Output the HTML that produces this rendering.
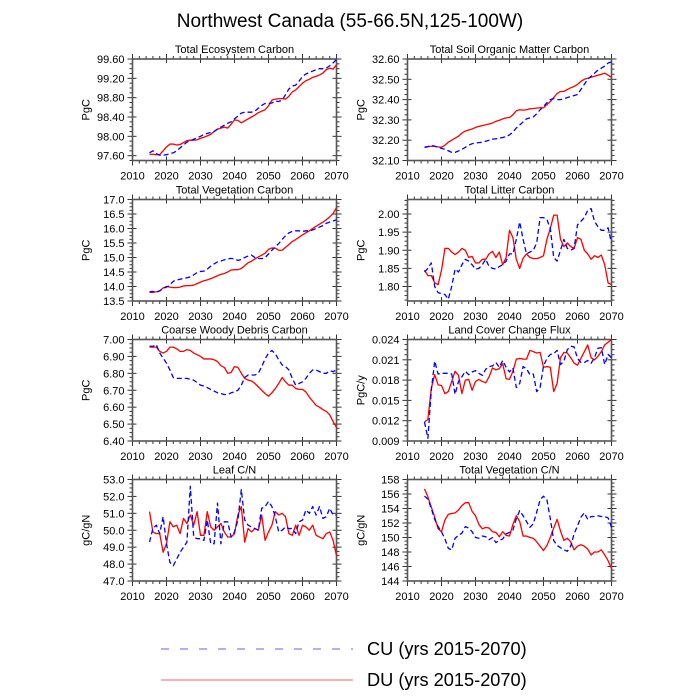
<!DOCTYPE html>
<html><head><meta charset="utf-8">
<style>
html,body{margin:0;padding:0;background:#fff;}
svg{display:block;font-family:"Liberation Sans",Arial,sans-serif;}
</style></head>
<body>
<svg id="chart" width="700" height="700" viewBox="0 0 700 700" xmlns="http://www.w3.org/2000/svg">
<rect width="700" height="700" fill="#fff"/>
<text x="350" y="27" font-size="19" text-anchor="middle" fill="#000">Northwest Canada (55-66.5N,125-100W)</text>
<g id="panels"></g>
<g>
<line x1="161" y1="649" x2="353" y2="649" stroke="#6060ff" stroke-width="1" stroke-dasharray="8,11"/>
<text x="367" y="655" font-size="18.2" fill="#000">CU (yrs 2015-2070)</text>
<line x1="161" y1="680" x2="353" y2="680" stroke="#ff6060" stroke-width="1"/>
<text x="367" y="686" font-size="18.2" fill="#000">DU (yrs 2015-2070)</text>
</g>
</svg>
<script>
const startYear = 2015;
const xTicks = [2010, 2020, 2030, 2040, 2050, 2060, 2070];
const panelTitles = ["Total Ecosystem Carbon","Total Soil Organic Matter Carbon","Total Vegetation Carbon","Total Litter Carbon","Coarse Woody Debris Carbon","Land Cover Change Flux","Leaf C/N","Total Vegetation C/N"];
const yUnits = ["PgC","PgC","PgC","PgC","PgC","PgC/y","gC/gN","gC/gN"];
const yMin = [97.5, 32.1, 13.5, 1.76, 6.4, 0.009, 47, 144];
const yMax = [99.6, 32.6, 17.0, 2.04, 7.0, 0.024, 53, 158];
const yTickStart = [97.6, 32.1, 13.5, 1.8, 6.4, 0.009, 47, 144];
const yTickStep = [0.4, 0.1, 0.5, 0.05, 0.1, 0.003, 1, 2];
const yDecimals = [2, 2, 1, 2, 2, 3, 1, 0];

const ecoDU = [97.63,97.63,97.62,97.62,97.7,97.78,97.84,97.84,97.82,97.83,97.87,97.91,97.92,97.92,97.93,97.96,97.98,98.01,98.04,98.1,98.15,98.17,98.19,98.17,98.25,98.34,98.33,98.28,98.32,98.36,98.4,98.44,98.49,98.52,98.55,98.63,98.75,98.77,98.78,98.78,98.77,98.83,98.92,98.96,99.03,99.1,99.15,99.18,99.22,99.24,99.27,99.31,99.38,99.41,99.39,99.48];
const ecoCU = [97.66,97.7,97.64,97.61,97.61,97.62,97.64,97.66,97.7,97.76,97.82,97.88,97.91,97.94,97.97,98.0,98.04,98.06,98.08,98.1,98.15,98.19,98.23,98.27,98.3,98.36,98.42,98.48,98.5,98.5,98.5,98.52,98.58,98.64,98.68,98.68,98.69,98.73,98.72,98.75,98.86,98.98,99.04,99.06,99.14,99.24,99.29,99.32,99.35,99.38,99.4,99.4,99.41,99.46,99.52,99.59];
const soilDU = [32.165,32.168,32.17,32.17,32.167,32.165,32.175,32.19,32.2,32.21,32.22,32.235,32.245,32.25,32.255,32.263,32.268,32.272,32.276,32.28,32.285,32.293,32.298,32.305,32.31,32.312,32.325,32.345,32.35,32.348,32.35,32.355,32.356,32.358,32.36,32.36,32.375,32.39,32.41,32.43,32.44,32.44,32.45,32.458,32.465,32.475,32.49,32.5,32.505,32.51,32.515,32.52,32.525,32.53,32.52,32.51];
const soilCU = [32.165,32.168,32.175,32.17,32.165,32.16,32.155,32.148,32.14,32.14,32.147,32.155,32.165,32.175,32.183,32.186,32.188,32.19,32.195,32.2,32.205,32.207,32.21,32.213,32.218,32.226,32.24,32.26,32.275,32.29,32.305,32.31,32.315,32.33,32.35,32.365,32.385,32.4,32.405,32.4,32.4,32.405,32.41,32.415,32.42,32.425,32.45,32.475,32.5,32.515,32.53,32.545,32.555,32.565,32.58,32.585];
const vegDU = [13.8,13.8,13.82,13.85,13.95,14.0,13.98,13.96,13.96,13.98,14.02,14.03,14.03,14.05,14.1,14.15,14.2,14.23,14.27,14.32,14.37,14.42,14.45,14.5,14.57,14.58,14.58,14.62,14.72,14.82,14.87,14.95,15.02,15.08,15.15,15.28,15.33,15.32,15.25,15.25,15.35,15.45,15.55,15.62,15.7,15.78,15.85,15.92,16.0,16.08,16.15,16.22,16.3,16.4,16.52,16.72];
const vegCU = [13.82,13.83,13.8,13.85,13.93,13.98,14.05,14.18,14.22,14.25,14.28,14.3,14.33,14.4,14.48,14.52,14.53,14.6,14.7,14.78,14.85,14.88,14.92,14.95,14.97,14.95,14.9,14.93,15.0,15.05,15.08,15.0,14.97,14.96,15.0,15.12,15.25,15.37,15.48,15.62,15.75,15.85,15.9,15.92,15.92,15.9,15.92,15.92,15.95,16.0,16.05,16.1,16.18,16.22,16.26,16.3];
const litDU = [1.845,1.83,1.83,1.81,1.805,1.845,1.905,1.905,1.895,1.888,1.895,1.905,1.9,1.88,1.883,1.865,1.865,1.875,1.875,1.89,1.897,1.88,1.895,1.86,1.88,1.955,1.935,1.875,1.85,1.878,1.89,1.88,1.877,1.877,1.88,1.885,1.93,1.96,1.997,1.997,1.93,1.91,1.92,1.91,1.905,1.935,1.93,1.9,1.89,1.875,1.885,1.88,1.887,1.86,1.81,1.805];
const litCU = [1.84,1.85,1.865,1.8,1.783,1.78,1.778,1.765,1.8,1.848,1.84,1.86,1.875,1.87,1.86,1.848,1.85,1.86,1.875,1.855,1.85,1.848,1.855,1.86,1.87,1.89,1.89,1.93,1.978,1.93,1.89,1.895,1.9,1.92,1.99,1.99,1.985,1.96,1.88,1.87,1.9,1.93,1.905,1.9,1.905,1.97,1.98,1.99,2.01,2.015,1.98,1.965,1.955,1.955,1.962,1.92];
const cwdDU = [6.955,6.955,6.955,6.93,6.92,6.93,6.955,6.955,6.945,6.93,6.93,6.94,6.935,6.92,6.91,6.9,6.885,6.885,6.885,6.88,6.87,6.845,6.835,6.8,6.805,6.84,6.835,6.8,6.77,6.76,6.755,6.74,6.72,6.7,6.68,6.665,6.685,6.71,6.74,6.775,6.75,6.73,6.73,6.71,6.705,6.705,6.69,6.66,6.635,6.61,6.6,6.585,6.575,6.555,6.515,6.48];
const cwdCU = [6.96,6.96,6.97,6.92,6.89,6.86,6.82,6.775,6.77,6.77,6.77,6.77,6.765,6.76,6.745,6.73,6.725,6.715,6.705,6.695,6.685,6.68,6.675,6.675,6.685,6.69,6.7,6.73,6.775,6.79,6.79,6.79,6.8,6.84,6.885,6.92,6.935,6.915,6.88,6.85,6.84,6.82,6.77,6.73,6.74,6.75,6.77,6.8,6.82,6.82,6.81,6.8,6.8,6.815,6.81,6.82];
const lccDU = [0.0118,0.0122,0.0168,0.0188,0.0173,0.0172,0.016,0.0163,0.0178,0.0193,0.0187,0.016,0.018,0.0181,0.0165,0.0178,0.0181,0.0178,0.0176,0.0185,0.0198,0.0195,0.0197,0.0204,0.0182,0.0181,0.0193,0.0211,0.0212,0.0211,0.0211,0.0224,0.0222,0.022,0.0221,0.0199,0.02,0.0199,0.0163,0.0175,0.0213,0.0221,0.022,0.0213,0.0205,0.0202,0.0212,0.0222,0.0232,0.0213,0.021,0.0215,0.0222,0.0232,0.0236,0.024];
const lccCU = [0.0118,0.0094,0.0165,0.0208,0.0189,0.019,0.019,0.019,0.0189,0.0159,0.0178,0.0185,0.0193,0.0188,0.0192,0.0194,0.019,0.0187,0.0196,0.02,0.0201,0.0206,0.0199,0.0209,0.0199,0.0192,0.0198,0.0169,0.0175,0.02,0.0197,0.0188,0.0189,0.0163,0.0169,0.0201,0.0212,0.0218,0.0219,0.0224,0.0203,0.0208,0.0225,0.023,0.0229,0.0212,0.0206,0.0206,0.0209,0.0205,0.0213,0.0227,0.0228,0.0203,0.0218,0.0213];
const leafDU = [51.1,49.9,49.8,49.8,48.7,49.2,50.5,50.2,50.3,49.8,50.7,50.4,50.9,50.3,51.1,49.7,49.7,51.1,50.2,50.0,50.2,50.4,49.9,49.6,49.6,49.8,50.9,51.4,49.3,50.1,49.9,50.1,50.0,50.9,49.4,49.9,50.3,51.1,50.9,51.0,50.8,49.8,49.7,50.3,49.7,50.3,50.2,50.0,50.3,49.7,49.6,49.5,49.8,49.9,49.4,48.5];
const leafCU = [49.3,50.1,50.3,49.8,50.8,49.2,48.1,47.9,48.3,48.7,49.0,49.3,52.6,49.6,49.5,49.5,49.4,50.6,49.2,49.2,51.6,49.2,50.5,50.5,49.6,49.9,50.6,52.4,50.6,50.3,50.2,50.1,50.0,51.3,51.4,51.7,51.4,50.8,49.9,50.0,50.2,50.1,50.1,49.8,50.5,50.6,51.2,51.0,51.4,50.9,51.4,50.7,50.8,51.3,50.9,50.9];
const vcnDU = [156.7,155.6,154.2,152.8,151.2,150.8,152.4,153.2,153.3,153.4,153.8,154.4,154.8,154.8,153.6,153.0,151.8,151.2,151.4,151.3,150.8,150.7,150.1,150.8,150.3,150.2,151.8,153.0,152.2,150.2,150.2,150.0,149.9,149.4,148.8,148.2,148.9,150.0,151.3,152.5,150.9,149.6,149.9,149.4,148.3,148.8,149.0,148.8,148.4,147.6,148.0,148.0,148.3,147.6,146.8,145.7];
const vcnCU = [155.7,155.3,154.0,152.5,151.5,150.8,149.8,148.5,148.3,149.9,150.3,150.6,151.5,151.3,150.8,150.0,149.9,150.2,150.1,149.7,150.0,149.3,149.6,149.8,150.5,150.7,151.0,152.6,153.7,153.0,152.2,151.4,151.9,153.5,155.2,155.7,155.2,152.6,149.6,148.9,148.6,148.3,148.1,148.8,150.5,151.6,152.8,153.4,152.5,152.9,152.9,153.0,152.9,152.9,152.7,151.4];

const duSeries = [ecoDU, soilDU, vegDU, litDU, cwdDU, lccDU, leafDU, vcnDU];
const cuSeries = [ecoCU, soilCU, vegCU, litCU, cwdCU, lccCU, leafCU, vcnCU];

const NS = "http://www.w3.org/2000/svg";
const root = document.getElementById("panels");
function mk(tag, attrs, parent) {
  const e = document.createElementNS(NS, tag);
  for (const k in attrs) e.setAttribute(k, attrs[k]);
  parent.appendChild(e);
  return e;
}
const colX = [132.5, 407.5], rowY = [59, 199.5, 339.5, 479.5];
const PW = 204, PH = 101.5;

for (let p = 0; p < 8; p++) {
  const x0 = colX[p % 2], y0 = rowY[Math.floor(p / 2)];
  const g = mk("g", {}, root);
  
  
  const xs = yr => x0 + (yr - 2010) / 60 * PW;
  const ys = v => y0 + PH - (v - yMin[p]) / (yMax[p] - yMin[p]) * PH;

  const t = mk("text", {x: x0 + PW / 2, y: y0 - 6, "font-size": 11, "text-anchor": "middle", fill: "#000"}, g);
  t.textContent = panelTitles[p];
  
  

  const yl = mk("text", {x: 0, y: 0, "font-size": 11, "text-anchor": "middle", fill: "#000",
    transform: `translate(${x0 - 43},${y0 + PH / 2}) rotate(-90)`}, g);
  yl.textContent = yUnits[p];
  
  

  for (let yr = 2010; yr <= 2070; yr += 2) {
    const major = (yr % 10 === 0);
    const L = major ? 5 : 3;
    const X = xs(yr);
    mk("line", {x1: X, x2: X, y1: y0 + PH - (major ? 4 : 0), y2: y0 + PH + L, stroke: "#333", "stroke-width": 1}, g);
    mk("line", {x1: X, x2: X, y1: y0 + (major ? 4 : 0), y2: y0 - L, stroke: "#333", "stroke-width": 1}, g);
  }
  xTicks.forEach(yr => {
    const tl = mk("text", {x: xs(yr), y: y0 + PH + 19, "font-size": 11, "text-anchor": "middle", fill: "#000"}, g);
    tl.textContent = yr;
    
    
  });
  const st = yTickStep[p], minorStep = st / 4;
  const eps = 1e-9;
  for (let v = yTickStart[p] - 8 * minorStep; v <= yMax[p] + eps; v += minorStep) {
    if (v < yMin[p] - eps) continue;
    const k = Math.round((v - yTickStart[p]) / st * 4);
    const major = (k % 4 === 0) && v >= yTickStart[p] - eps;
    const Y = ys(v), L = major ? 5 : 3;
    mk("line", {x1: x0 - L, x2: x0 + (major ? 4 : 0), y1: Y, y2: Y, stroke: "#333", "stroke-width": 1}, g);
    mk("line", {x1: x0 + PW - (major ? 4 : 0), x2: x0 + PW + L, y1: Y, y2: Y, stroke: "#333", "stroke-width": 1}, g);
    if (major) {
      const lab = mk("text", {x: x0 - 8, y: Y + 4, "font-size": 11, "text-anchor": "end", fill: "#000"}, g);
      lab.textContent = v.toFixed(yDecimals[p]);
      
      
    }
  }
  const fr = mk("rect", {x: x0, y: y0, width: PW, height: PH, fill: "none", stroke: "#555", "stroke-width": 1.6}, g);
  
  

  const line = (arr, color, dash, name) => {
    const pts = arr.map((v, i) => xs(startYear + i).toFixed(2) + "," + ys(v).toFixed(2)).join(" ");
    const pl = mk("polyline", {points: pts, fill: "none", stroke: color, "stroke-width": 1.3, "stroke-linejoin": "round"}, g);
    if (dash) pl.setAttribute("stroke-dasharray", dash);
    
    
  };
  line(duSeries[p], "#ff0000", null, "du-line");
  line(cuSeries[p], "#0000ff", "5,3", "cu-line");
}
</script>
</body></html>
